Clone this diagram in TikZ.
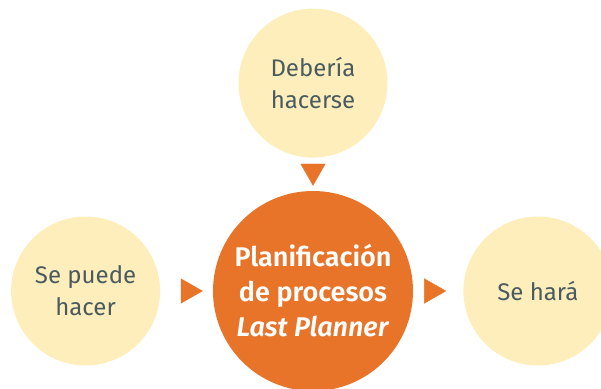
\documentclass[tikz,border=0pt]{standalone}
\usepackage{fontspec}
\setmainfont{Fira Sans}[BoldFont={Fira Sans SemiBold}]
\usepackage{xcolor}
\usepackage{tikz}
\usetikzlibrary{positioning, arrows.meta, decorations.markings}
\definecolor{lpyellow}{HTML}{FEEEBC}
\definecolor{lporange}{HTML}{E8742A}
\definecolor{lpgray}{HTML}{4A5B5F}

\tikzset{
    phase/.style={circle, fill=lpyellow, minimum size=149pt, inner sep=0pt,
          align=center, text=lpgray, font=\fontsize{24}{32}\selectfont},
    core/.style={circle, fill=lporange, minimum size=200pt, inner sep=0pt,
          align=center, text=white, font=\fontsize{27}{35}\selectfont\bfseries},
    link/.style={decoration={markings, mark=at position #1 with
          {\arrow[lporange]{Triangle[width=25pt, length=22pt]}}}, decorate}
}

\begin{document}
\begin{tikzpicture}[x=1pt, y=1pt]
    \useasboundingbox (0,0) rectangle (601,388);
    \clip (0,0) rectangle (601,388);
    \node[core] (plan) at (313,97) {Planificación\\de procesos\\\textit{Last Planner}};
    \node[phase, above=33pt of plan] (should) {Debería\\hacerse};
    \node[phase, left=52.5pt of plan] (can) {Se puede\\hacer};
    \node[phase, right=50pt of plan] (will) {Se hará};
    \path[link=-5pt] (should) -- (plan);
    \path[link=-10pt] (can) -- (plan);
    \path[link=-17pt] (plan) -- (will);
  \end{tikzpicture}
\end{document}
